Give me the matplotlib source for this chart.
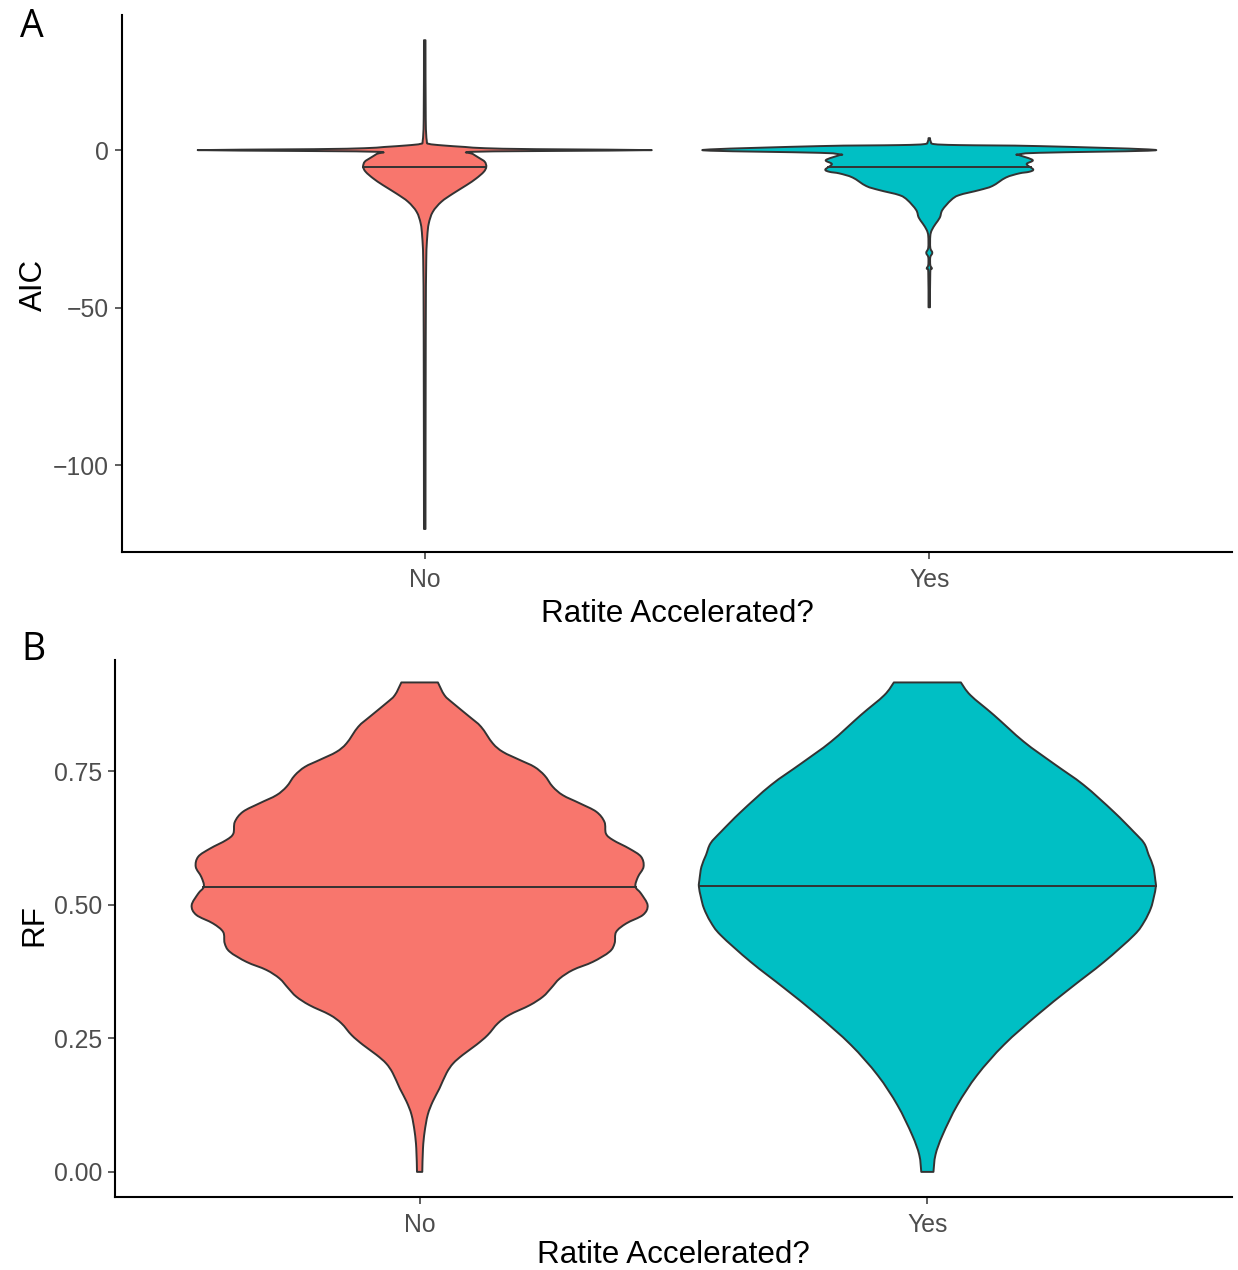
import numpy as np
import matplotlib
matplotlib.use("Agg")
import matplotlib.pyplot as plt
from matplotlib.path import Path
from matplotlib.patches import PathPatch

plt.rcParams['font.family'] = ['Liberation Sans', 'DejaVu Sans']

GROUPS = ["No", "Yes"]
FILL_COLORS = ["#F8766D", "#00BFC4"]

# Panel A: AIC violin outlines (value, half-width in category units)
aic_no_y = [34.9, 10, 3.0, 2.0, 1.5, 1.0, 0.6, 0.3, 0.0, -0.3, -0.55, -1.2, -2.5, -3.7,
            -5.3, -6.9, -9.0, -11.1, -13.8, -16.4, -19.6, -23.3, -27.5, -35, -60, -120.3]
aic_no_w = [0.0015, 0.002, 0.004, 0.008, 0.035, 0.08, 0.12, 0.22, 0.45, 0.22, 0.09, 0.095,
            0.108, 0.119, 0.122, 0.117, 0.102, 0.083, 0.056, 0.033, 0.016, 0.008, 0.005,
            0.003, 0.002, 0.0015]

aic_yes_y = [3.8, 2.65, 1.9, 1.59, 1.27, 0.0, -0.85, -1.4, -1.6, -3.17, -4.44, -6.14, -6.88,
             -7.4, -8.7, -11.4, -12.7, -14.3, -15.9, -19.0, -21.4, -23.3, -25.4, -27.3, -31.0,
             -32.6, -34.0, -36.5, -37.6, -38.7, -49.9]
aic_yes_w = [0.0015, 0.003, 0.01, 0.06, 0.218, 0.45, 0.218, 0.176, 0.178, 0.205, 0.193, 0.206,
             0.198, 0.178, 0.152, 0.125, 0.099, 0.059, 0.043, 0.026, 0.021, 0.013, 0.005, 0.002,
             0.002, 0.006, 0.002, 0.002, 0.005, 0.002, 0.0015]

aic_medians = [-5.5, -5.5]

# Panel B: RF violin outlines
rf_no_y = [0.916, 0.892, 0.877, 0.852, 0.833, 0.802, 0.786, 0.771, 0.758, 0.742, 0.721, 0.705,
           0.690, 0.674, 0.655, 0.633, 0.621, 0.605, 0.590, 0.571, 0.552, 0.534, 0.521, 0.499,
           0.481, 0.465, 0.449, 0.428, 0.412, 0.393, 0.378, 0.362, 0.344, 0.328, 0.312, 0.294,
           0.278, 0.256, 0.238, 0.219, 0.203, 0.185, 0.156, 0.132, 0.107, 0.075, 0.044, 0.0]
rf_no_w = [0.036, 0.049, 0.066, 0.098, 0.121, 0.144, 0.164, 0.197, 0.226, 0.246, 0.262, 0.282,
           0.315, 0.348, 0.364, 0.367, 0.381, 0.413, 0.436, 0.441, 0.430, 0.425, 0.436, 0.449,
           0.440, 0.407, 0.387, 0.384, 0.374, 0.341, 0.302, 0.276, 0.259, 0.243, 0.217, 0.177,
           0.154, 0.134, 0.112, 0.085, 0.066, 0.053, 0.039, 0.026, 0.016, 0.0098, 0.0066, 0.0052]

rf_yes_y = [0.916, 0.892, 0.855, 0.805, 0.764, 0.724, 0.674, 0.636, 0.615, 0.593, 0.571, 0.546,
            0.534, 0.514, 0.493, 0.468, 0.443, 0.393, 0.344, 0.294, 0.238, 0.181, 0.125, 0.069,
            0.032, 0.0]
rf_yes_w = [0.066, 0.085, 0.131, 0.190, 0.249, 0.308, 0.367, 0.407, 0.427, 0.436, 0.445, 0.449,
            0.450, 0.446, 0.440, 0.427, 0.407, 0.348, 0.282, 0.217, 0.151, 0.098, 0.059, 0.030,
            0.016, 0.012]

rf_medians = [0.533, 0.535]

AIC_TICKS = [-100, -50, 0]
RF_TICKS = [0.00, 0.25, 0.50, 0.75]
RF_TICK_LABELS = ["0.00", "0.25", "0.50", "0.75"]

EDGE = "#333333"
W, H = 1238, 1270


def smooth_side(pts):
    # Catmull-Rom through the outline points, written as cubic Bezier segments
    pts = np.asarray(pts, dtype=float)
    ext = np.vstack([pts[0], pts, pts[-1]])
    verts, codes = [], []
    for i in range(1, len(ext) - 2):
        p0, p1, p2, p3 = ext[i - 1], ext[i], ext[i + 1], ext[i + 2]
        verts += [p1 + (p2 - p0) / 6.0, p2 - (p3 - p1) / 6.0, p2]
        codes += [Path.CURVE4] * 3
    return verts, codes


def draw_violin(ax, pos, ys, ws, median, color):
    ys = np.asarray(ys, dtype=float)
    ws = np.asarray(ws, dtype=float)
    right = np.column_stack([pos + ws, ys])
    left = np.column_stack([pos - ws, ys])[::-1]
    verts = [tuple(right[0])]
    codes = [Path.MOVETO]
    v, c = smooth_side(right)
    verts += v
    codes += c
    verts.append(tuple(left[0]))
    codes.append(Path.LINETO)
    v, c = smooth_side(left)
    verts += v
    codes += c
    verts.append(tuple(right[0]))
    codes.append(Path.CLOSEPOLY)
    patch = PathPatch(Path(verts, codes), facecolor=color, edgecolor=EDGE,
                      linewidth=1.4, joinstyle='round', zorder=2)
    ax.add_patch(patch)
    # median line across the violin
    order = np.argsort(ys)
    hw = np.interp(median, ys[order], ws[order])
    ax.plot([pos - hw, pos + hw], [median, median], color=EDGE, linewidth=1.4, zorder=3)


def style_axes(ax):
    for side in ["top", "right"]:
        ax.spines[side].set_visible(False)
    for side in ["left", "bottom"]:
        ax.spines[side].set_linewidth(1.5)
        ax.spines[side].set_color("black")
    ax.tick_params(axis="both", length=5.3, width=1.1, color=EDGE,
                   labelsize=17.8, labelcolor="#4D4D4D", pad=4)
    ax.tick_params(axis="x", pad=6)
    ax.set_xlim(0.4, 2.6)
    ax.set_xticks([1, 2])
    ax.set_xticklabels(GROUPS)


def main():
    fig = plt.figure(figsize=(W / 100, H / 100), dpi=100)

    # panel A
    ax1 = fig.add_axes([122 / W, 1 - 552 / H, 1110 / W, 537 / H])
    draw_violin(ax1, 1, aic_no_y, aic_no_w, aic_medians[0], FILL_COLORS[0])
    draw_violin(ax1, 2, aic_yes_y, aic_yes_w, aic_medians[1], FILL_COLORS[1])
    style_axes(ax1)
    ax1.set_ylim(-127.6, 42.9)
    ax1.set_yticks(AIC_TICKS)

    # panel B
    ax2 = fig.add_axes([115 / W, 1 - 1197 / H, 1117 / W, 537 / H])
    draw_violin(ax2, 1, rf_no_y, rf_no_w, rf_medians[0], FILL_COLORS[0])
    draw_violin(ax2, 2, rf_yes_y, rf_yes_w, rf_medians[1], FILL_COLORS[1])
    style_axes(ax2)
    ax2.set_ylim(-0.047, 0.958)
    ax2.set_yticks(RF_TICKS)
    ax2.set_yticklabels(RF_TICK_LABELS)

    # axis titles
    fig.text(677 / W, 1 - 622 / H, "Ratite Accelerated?", fontsize=22.6, ha="center", va="baseline")
    fig.text(673 / W, 1 - 1263 / H, "Ratite Accelerated?", fontsize=22.6, ha="center", va="baseline")
    fig.text(42 / W, 1 - 285 / H, "AIC", fontsize=22.6, rotation=90, rotation_mode="anchor",
             ha="center", va="baseline")
    fig.text(42 / W, 1 - 925 / H, "RF", fontsize=22.6, rotation=90, rotation_mode="anchor",
             ha="center", va="baseline")

    # panel tags
    fig.text(20 / W, 1 - 37 / H, "A", fontsize=27, family=["Open Sans", "DejaVu Sans"],
             ha="left", va="baseline")
    fig.text(21 / W, 1 - 660 / H, "B", fontsize=27, family=["Open Sans", "DejaVu Sans"],
             ha="left", va="baseline")

    fig.savefig("out.png", dpi=100, facecolor="white")
    plt.close(fig)


if __name__ == "__main__":
    main()
